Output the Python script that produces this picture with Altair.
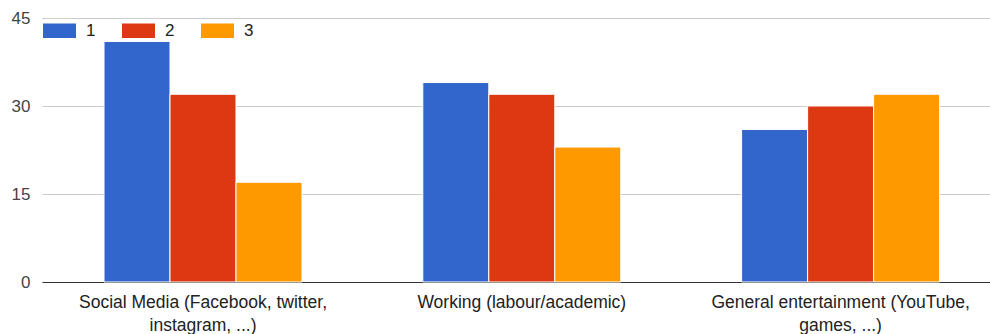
import altair as alt
import pandas as pd

# Survey answers: rank counts per activity
categories = [
    "Social Media (Facebook, twitter, instagram, ...)",
    "Working (labour/academic)",
    "General entertainment (YouTube, games, ...)",
]
label_lines = [
    ["Social Media (Facebook, twitter,", "instagram, ...)"],
    ["Working (labour/academic)"],
    ["General entertainment (YouTube,", "games, ...)"],
]
ranks = ["1", "2", "3"]
rank1 = [41, 34, 26]
rank2 = [32, 32, 30]
rank3 = [17, 23, 32]
y_ticks = [0, 15, 30, 45]
colors = ["#3366CC", "#DC3912", "#FF9900"]

rows = []
for series_name, values in zip(ranks, [rank1, rank2, rank3]):
    for cat, v in zip(categories, values):
        rows.append({"category": cat, "rank": series_name, "count": v})
df = pd.DataFrame(rows)

# Multi-line axis labels
parts = []
for cat, lines in zip(categories, label_lines):
    arr = "[" + ",".join("'" + l + "'" for l in lines) + "]"
    parts.append(f"datum.value == '{cat}' ? {arr}")
label_expr = " : ".join(parts) + " : datum.label"

font = "Liberation Sans"
rect_path = "M-1,-0.44L1,-0.44L1,0.44L-1,0.44Z"

chart = (
    alt.Chart(df)
    .mark_bar(stroke="white", strokeWidth=1)
    .encode(
        x=alt.X(
            "category:N",
            sort=categories,
            scale=alt.Scale(paddingInner=0.379, paddingOuter=0.1763, align=0.5516),
            axis=alt.Axis(
                title=None,
                labelAngle=0,
                ticks=False,
                domainColor="#333333",
                domainWidth=1,
                labelExpr=label_expr,
                labelFont=font,
                labelFontSize=17.5,
                labelColor="#222222",
                labelPadding=11,
                labelLineHeight=23,
                labelLimit=400,
                grid=False,
            ),
        ),
        xOffset=alt.XOffset("rank:N", sort=ranks, scale=alt.Scale(paddingInner=0, paddingOuter=0)),
        y=alt.Y(
            "count:Q",
            scale=alt.Scale(domain=[0, 45], nice=False),
            axis=alt.Axis(
                title=None,
                values=y_ticks,
                ticks=False,
                domain=False,
                gridColor="#CCCCCC",
                labelFont=font,
                labelFontSize=17,
                labelColor="#444444",
                labelPadding=12,
            ),
        ),
        color=alt.Color(
            "rank:N",
            sort=ranks,
            scale=alt.Scale(domain=ranks, range=colors),
            legend=alt.Legend(
                title=None,
                orient="none",
                legendX=1,
                legendY=-4,
                direction="horizontal",
                symbolType=rect_path,
                symbolSize=1089,
                symbolStrokeWidth=0,
                symbolOpacity=1,
                labelFont=font,
                labelFontSize=17,
                labelColor="#222222",
                labelOffset=10,
                columnPadding=26,
            ),
        ),
    )
    .properties(width=948, height=264, padding={"left": 42, "top": 18, "right": 0, "bottom": 52})
    .configure(autosize=alt.AutoSizeParams(type="none"))
    .configure_view(stroke=None)
)

chart.save("out.html", embed_options={"renderer": "svg", "actions": False})
